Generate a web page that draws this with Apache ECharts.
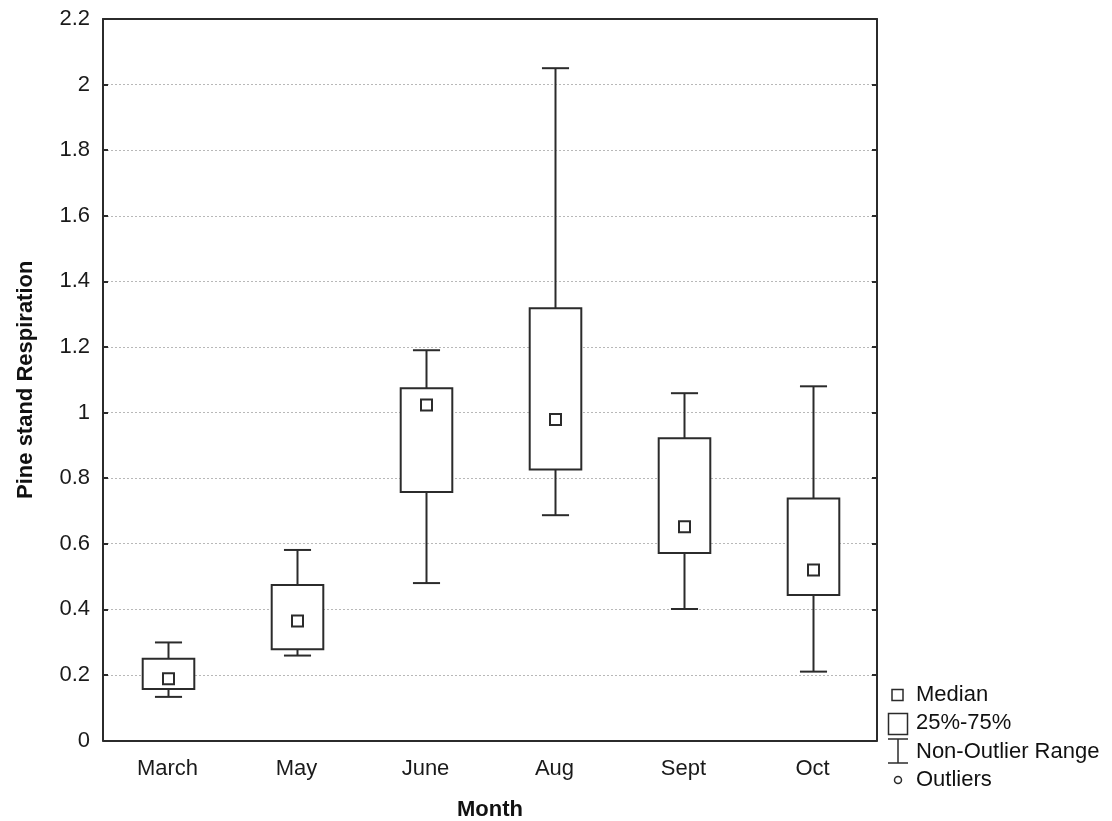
<!DOCTYPE html>
<html>
<head>
<meta charset="utf-8">
<title>Pine stand Respiration by Month</title>
<script src="https://cdn.jsdelivr.net/npm/echarts@6/dist/echarts.min.js"></script>
<style>
  html, body { margin: 0; padding: 0; background: #fff; }
  #chart { width: 1112px; height: 821px; }
</style>
</head>
<body>
<div id="chart"></div>
<script>
// Monthly box-plot statistics
const months      = ['March', 'May', 'June', 'Aug', 'Sept', 'Oct'];
const whiskerLow  = [0.133, 0.259, 0.48, 0.687, 0.401, 0.21];
const quartile1   = [0.157, 0.278, 0.758, 0.826, 0.572, 0.444];
const medians     = [0.188, 0.364, 1.023, 0.979, 0.652, 0.52];
const quartile3   = [0.249, 0.474, 1.074, 1.318, 0.922, 0.738];
const whiskerHigh = [0.299, 0.581, 1.19, 2.05, 1.059, 1.08];
const yTicks      = [0, 0.2, 0.4, 0.6, 0.8, 1, 1.2, 1.4, 1.6, 1.8, 2, 2.2];
const legendItems = ['Median', '25%-75%', 'Non-Outlier Range', 'Outliers'];

const INK = '#2b2b2b';
const FONT = "'Liberation Sans', Arial, sans-serif";

const rows = months.map((m, i) => [i, whiskerLow[i], quartile1[i], medians[i], quartile3[i], whiskerHigh[i]]);

// One box per month: whiskers with caps, the quartile box, and a small square at the median
function renderBox(params, api) {
  const i = api.value(0);
  const lo = api.coord([i, api.value(1)]);
  const q1 = api.coord([i, api.value(2)]);
  const md = api.coord([i, api.value(3)]);
  const q3 = api.coord([i, api.value(4)]);
  const hi = api.coord([i, api.value(5)]);
  const band = api.size([1, 0])[0];
  const bw = band * 0.4;
  const cw = band * 0.21;
  const ms = 11;
  const cx = Math.round(lo[0]) + 0.5;
  const line = { stroke: INK, lineWidth: 2, fill: null };
  return {
    type: 'group',
    children: [
      { type: 'line', shape: { x1: cx, y1: hi[1], x2: cx, y2: q3[1] }, style: line },
      { type: 'line', shape: { x1: cx - cw / 2, y1: hi[1], x2: cx + cw / 2, y2: hi[1] }, style: line },
      { type: 'line', shape: { x1: cx, y1: q1[1], x2: cx, y2: lo[1] }, style: line },
      { type: 'line', shape: { x1: cx - cw / 2, y1: lo[1], x2: cx + cw / 2, y2: lo[1] }, style: line },
      { type: 'rect', shape: { x: cx - bw / 2, y: q3[1], width: bw, height: q1[1] - q3[1] },
        style: { stroke: INK, lineWidth: 2, fill: '#fff' } },
      { type: 'rect', shape: { x: cx - ms / 2, y: md[1] - ms / 2, width: ms, height: ms },
        style: { stroke: INK, lineWidth: 2, fill: '#fff' } }
    ]
  };
}

const chart = echarts.init(document.getElementById('chart'));

const legendX = 916;
const legendText = (y, t) => ({
  type: 'text', x: legendX, y: y,
  style: { text: t, font: '22px ' + FONT, fill: '#111', textVerticalAlign: 'middle', textAlign: 'left' }
});
const iconStyle = { stroke: INK, lineWidth: 1.5, fill: '#fff' };

const axisLineStyle = { color: INK, width: 2 };
const tickStyle = { inside: true, length: 5, lineStyle: { color: INK, width: 2 } };

chart.setOption({
  animation: false,
  backgroundColor: '#fff',
  grid: { left: 103, right: 235, top: 19, bottom: 80.5, containLabel: false, outerBoundsMode: 'none' },
  xAxis: [{
    type: 'category',
    data: months,
    boundaryGap: true,
    name: 'Month',
    nameLocation: 'middle',
    nameGap: 58,
    nameTextStyle: { fontFamily: FONT, fontSize: 22, fontWeight: 'bold', color: '#111' },
    axisLine: { onZero: false, lineStyle: axisLineStyle },
    axisTick: Object.assign({ alignWithLabel: true }, tickStyle),
    axisLabel: { fontFamily: FONT, fontSize: 22, color: '#1a1a1a', margin: 17 },
    splitLine: { show: false }
  }, {
    type: 'category',
    data: months,
    position: 'top',
    boundaryGap: true,
    axisLine: { onZero: false, lineStyle: axisLineStyle },
    axisTick: Object.assign({ alignWithLabel: true }, tickStyle),
    axisLabel: { show: false },
    splitLine: { show: false }
  }],
  yAxis: [{
    type: 'value',
    min: 0, max: 2.2, interval: 0.2,
    name: 'Pine stand Respiration',
    nameLocation: 'middle',
    nameGap: 66,
    nameTextStyle: { fontFamily: FONT, fontSize: 22, fontWeight: 'bold', color: '#111' },
    axisLine: { show: true, onZero: false, lineStyle: axisLineStyle },
    axisTick: Object.assign({ show: true }, tickStyle),
    axisLabel: {
      fontFamily: FONT, fontSize: 22, color: '#1a1a1a', margin: 13,
      formatter: v => {
        const t = yTicks.find(k => Math.abs(k - v) < 1e-6);
        return t === undefined ? '' : String(+t.toFixed(1));
      }
    },
    splitLine: { show: true, lineStyle: { color: '#b8b8b8', type: [2, 2], width: 1 } }
  }, {
    type: 'value',
    position: 'right',
    min: 0, max: 2.2, interval: 0.2,
    axisLine: { show: true, onZero: false, lineStyle: axisLineStyle },
    axisTick: Object.assign({ show: true }, tickStyle),
    axisLabel: { show: false },
    splitLine: { show: false }
  }],
  series: [{
    type: 'custom',
    name: 'Respiration',
    xAxisIndex: 0,
    yAxisIndex: 0,
    renderItem: renderBox,
    encode: { x: 0, y: [1, 2, 3, 4, 5] },
    data: rows,
    z: 5
  }],
  graphic: [
    // median symbol
    { type: 'rect', shape: { x: 892, y: 689.5, width: 11, height: 11 }, style: iconStyle },
    legendText(695, legendItems[0]),
    // quartile box symbol
    { type: 'rect', shape: { x: 888.5, y: 713.5, width: 19, height: 21 }, style: iconStyle },
    legendText(723, legendItems[1]),
    // whisker symbol
    { type: 'line', shape: { x1: 898, y1: 739, x2: 898, y2: 763 }, style: { stroke: INK, lineWidth: 1.5 } },
    { type: 'line', shape: { x1: 888, y1: 739, x2: 908, y2: 739 }, style: { stroke: INK, lineWidth: 1.5 } },
    { type: 'line', shape: { x1: 888, y1: 763, x2: 908, y2: 763 }, style: { stroke: INK, lineWidth: 1.5 } },
    legendText(751.5, legendItems[2]),
    // outlier symbol
    { type: 'circle', shape: { cx: 898, cy: 780, r: 3.5 }, style: iconStyle },
    legendText(779.5, legendItems[3])
  ]
});
</script>
</body>
</html>
